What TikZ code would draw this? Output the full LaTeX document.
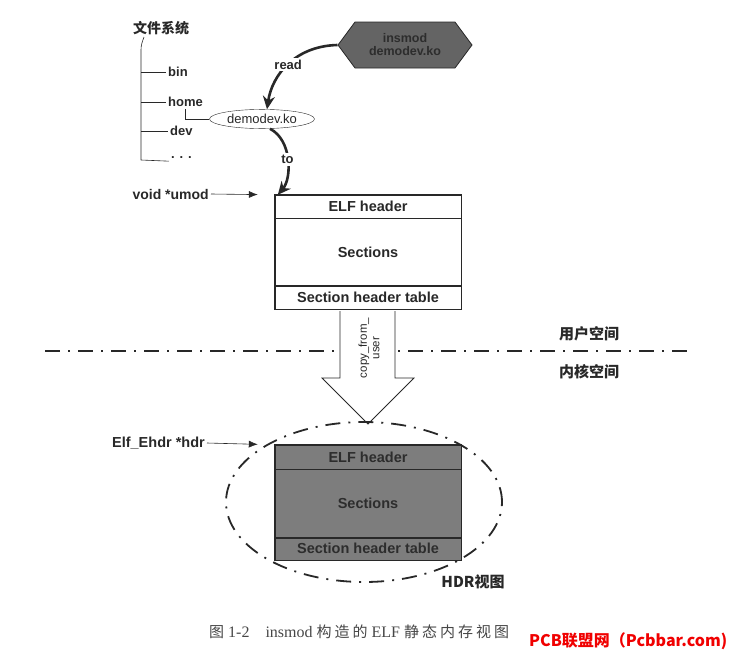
\documentclass[tikz,border=0pt]{standalone}
\usepackage{fontspec}
\setmainfont{Liberation Serif}
\setsansfont{Liberation Sans}
\newfontfamily\cjk{Noto Sans CJK SC}
\newfontfamily\cjkwide{Noto Sans CJK SC}[LetterSpace=20]
\usepackage{tikz}
\usetikzlibrary{arrows.meta, shapes.geometric, shapes.symbols, positioning}
\usepackage{xcolor}
\definecolor{zink}{RGB}{40, 40, 40}
\definecolor{zgray}{RGB}{125, 125, 125}
\definecolor{zhex}{RGB}{100, 100, 100}
\definecolor{zdark}{RGB}{45, 45, 45}
\definecolor{zcap}{RGB}{70, 70, 70}
\definecolor{zmark}{RGB}{240, 0, 0}

\begin{document}
\begin{tikzpicture}[
  x=1pt, y=-1pt,
  every node/.style={inner sep=2pt, text=zink},
  lbl/.style={font=\sffamily\bfseries\fontsize{13}{15}\selectfont},
  zh/.style={font=\cjk\bfseries\fontsize{15}{17}\selectfont},
  row/.style={rectangle, draw=zink, thin, minimum width=186pt,
              font=\sffamily\bfseries\fontsize{14.5}{16}\selectfont},
  frame/.style={draw=zink, thick},
  hexa/.style={signal, signal to=west and east, signal pointer angle=107,
               draw=zink, thick, fill=zhex, minimum width=134pt, minimum height=46pt,
               align=center, text=zdark, inner sep=1pt,
               font=\sffamily\bfseries\fontsize{12.5}{13}\selectfont},
  tree/.style={draw=zink, semithick},
  ptr/.style={-{Latex[length=9pt, width=7pt]}, draw=zink, semithick},
  curvy/.style={-{Stealth[length=13pt, width=12pt]}, draw=zink, line width=2.6pt},
  dashdot/.style={draw=zink, line width=1.8pt, dash pattern=on 15pt off 8pt on 2pt off 8pt}
]
\useasboundingbox (0,0) rectangle (731,656);

% File system tree
\node[zh, font=\cjk\bfseries\fontsize{14}{16}\selectfont] (fs) at (161,28) {文件系统};
\node[lbl, anchor=west] (bin)  at (166,72)  {bin};
\node[lbl, anchor=west] (home) at (166,102) {home};
\node[lbl, anchor=west] (dev)  at (168,131) {dev};
\node[lbl, anchor=west] (dots) at (169,158) {. . .};
\draw[tree] (144,37) to[out=-110, in=90] (141,50) -- (141,160);
\draw[tree] (141,72)  -- (bin.west);
\draw[tree] (141,102) -- (home.west);
\draw[tree] (141,131) -- (dev.west);
\draw[tree] (141,160) -- (dots.south west);

% Module file
\node[hexa] (ins) at (405,45) {insmod\\demodev.ko};
\node[ellipse, draw=zink, thin, minimum width=105pt, minimum height=19pt,
      font=\sffamily\fontsize{13}{15}\selectfont] (demo) at (262,119) {demodev.ko};
\draw[tree] (home.south) |- (demo.west);

% User space image
\node[row, minimum height=23pt] (uhdr) at (368,206.5) {ELF header};
\node[row, minimum height=67pt, below=0pt of uhdr] (usec) {Sections};
\node[row, minimum height=23pt, below=0pt of usec] (usht) {Section header table};
\draw[frame] (uhdr.north west) rectangle (usht.south east);

\draw[curvy] (ins.west) .. controls (295,46) and (272,75) ..
  node[lbl, fill=white, pos=0.5] {read} ([xshift=5pt]demo.north);
\draw[curvy] ([xshift=8pt]demo.south) .. controls (292,140) and (292,178) ..
  node[lbl, fill=white, pos=0.5] {to} ([xshift=3pt]uhdr.north west);

\node[lbl, font=\sffamily\bfseries\fontsize{14}{16}\selectfont, anchor=east] (umod)
  at (211,194) {void *umod};
\draw[ptr, shorten >=17pt] (umod.east) -- (uhdr.north west);

% Space boundary
\draw[dashdot] (45,351) -- (690,351);
\node[zh] (user) at (589,334) {用户空间};
\node[zh] (kern) at (589,372) {内核空间};

% Copy arrow
\draw[draw=zink, thick, fill=white] (340,311) -- (340,378) -- (322,378) -- (368,424)
  -- (414,378) -- (395,378) -- (395,311);
\node[rotate=90, align=center, inner sep=0pt,
      font=\sffamily\fontsize{11.5}{12.5}\selectfont] (copy) at (369,348) {copy\_from\_\\user};

% Kernel space view
\node[ellipse, dashdot, minimum width=276pt, minimum height=160pt] (view) at (364,502) {};
\node[row, fill=zgray, text=zdark, minimum height=24pt] (khdr) at (368,457) {ELF header};
\node[row, fill=zgray, text=zdark, minimum height=68pt, below=0pt of khdr] (ksec) {Sections};
\node[row, fill=zgray, text=zdark, minimum height=22pt, below=0pt of ksec] (ksht) {Section header table};
\draw[frame] (khdr.north west) rectangle (ksht.south east);

\node[lbl, font=\sffamily\bfseries\fontsize{14.5}{16}\selectfont, anchor=east] (ehdr)
  at (207,443) {Elf\_Ehdr *hdr};
\draw[ptr, shorten >=17pt] (ehdr.east) -- (khdr.north west);
\node[font=\cjk\bfseries\fontsize{15}{17}\selectfont] (hdrv) at (473,582) {HDR视图};

% Caption
\node[anchor=west, text=zcap, font=\fontsize{16}{18}\selectfont] (cap) at (207,632)
  {{\cjkwide\fontsize{15}{18}\selectfont 图} 1-2\quad insmod
   {\cjkwide\fontsize{15}{18}\selectfont 构造的} ELF
   {\cjkwide\fontsize{15}{18}\selectfont 静态内存视图}};
\node[anchor=west, text=zmark, font=\cjk\bfseries\fontsize{16}{18}\selectfont] (mark) at (527,641)
  {PCB联盟网（Pcbbar.com)};

\end{tikzpicture}
\end{document}
